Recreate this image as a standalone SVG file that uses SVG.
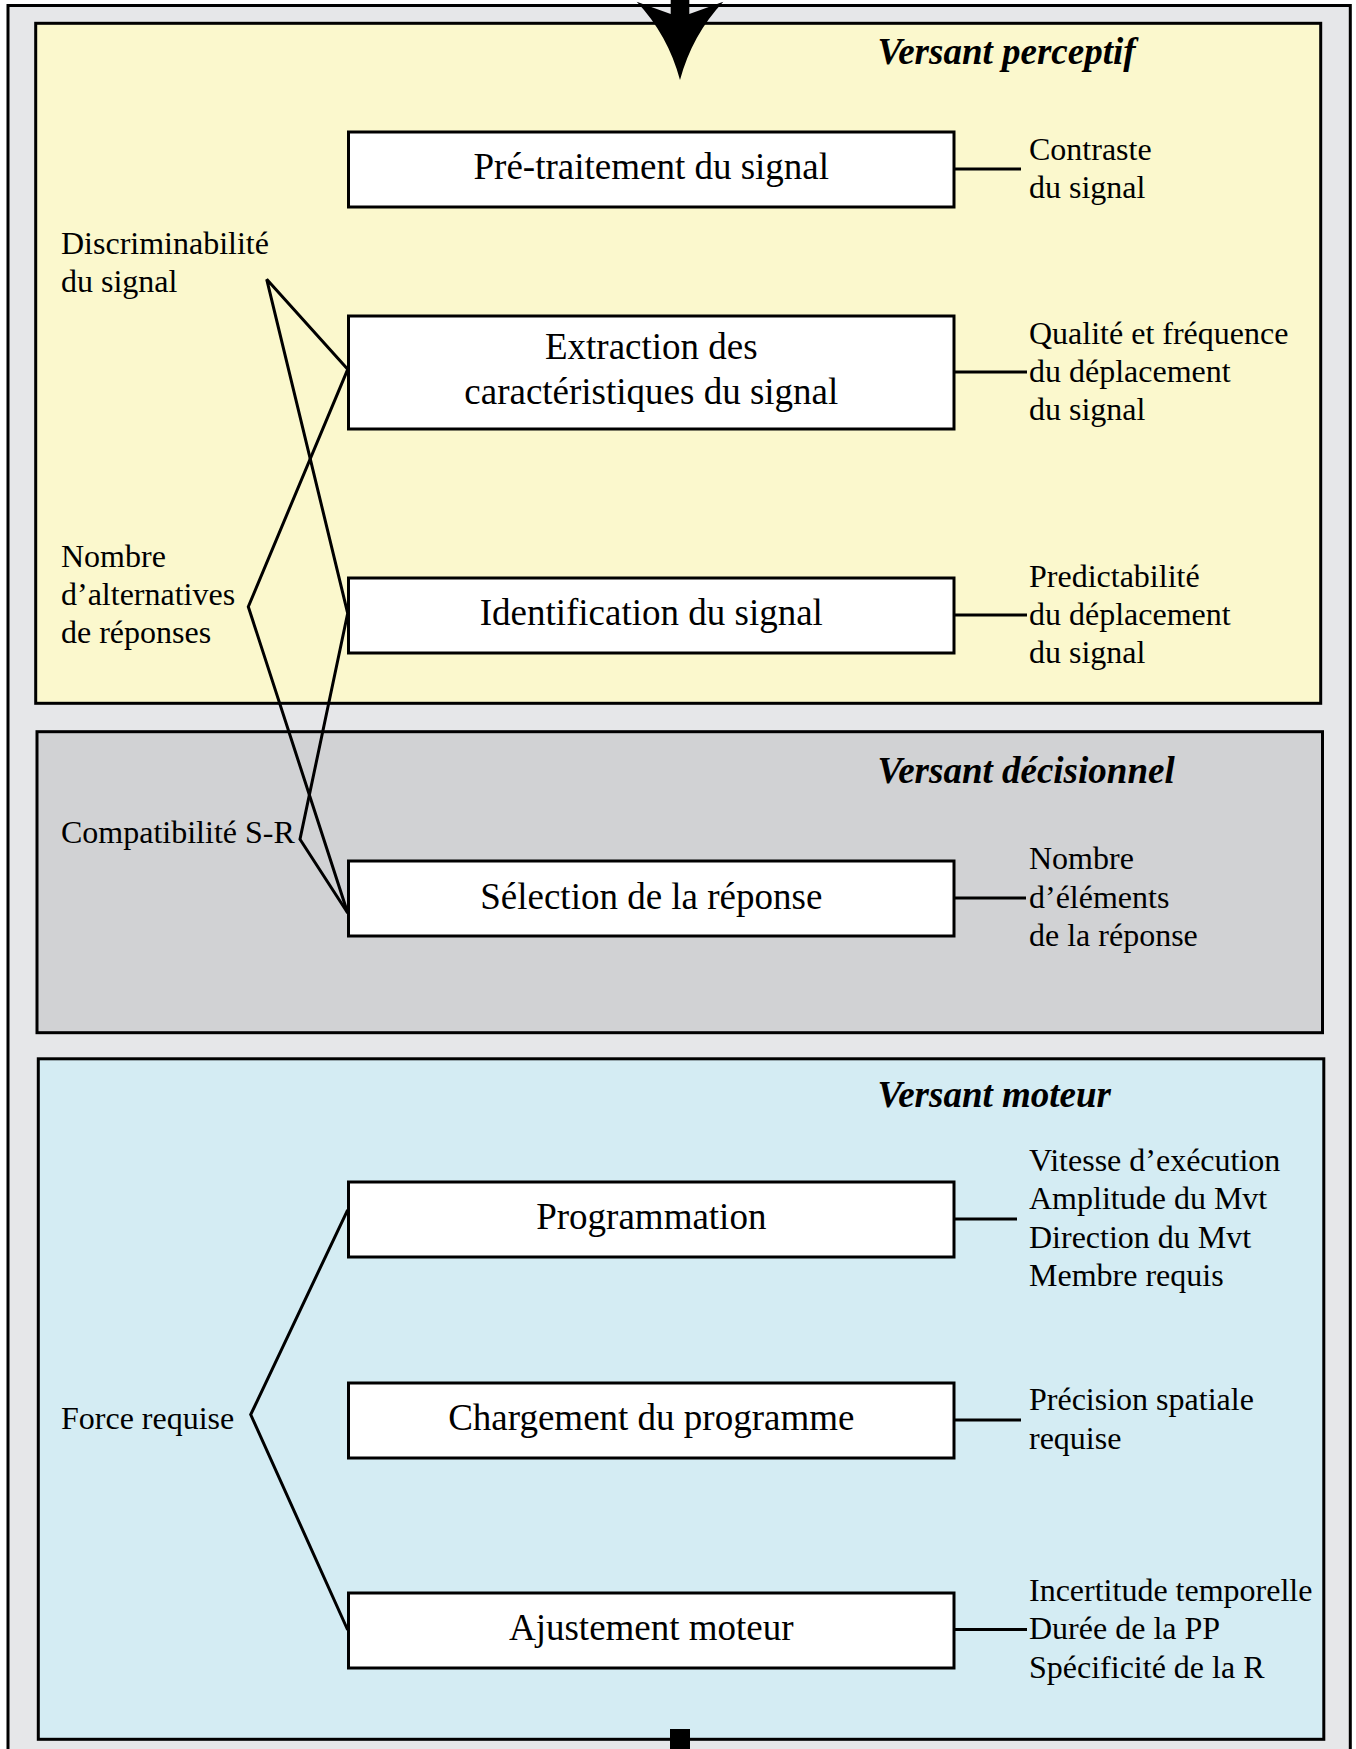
<svg xmlns="http://www.w3.org/2000/svg" width="1356" height="1749" viewBox="0 0 1356 1749">
<style>
.panel{stroke:#000;stroke-width:3}
.box{fill:#fff;stroke:#000;stroke-width:3}
.bt{font-family:"Liberation Serif","Times New Roman",serif;font-size:37px;fill:#000;text-anchor:middle}
.lb{font-family:"Liberation Serif","Times New Roman",serif;font-size:32px;fill:#000}
.ti{font-family:"Liberation Serif","Times New Roman",serif;font-size:37px;font-weight:bold;font-style:italic;fill:#000}
.cn{fill:none;stroke:#000;stroke-width:3;stroke-linejoin:miter}
</style>
<g id="frame">
<rect x="8" y="5.5" width="1342.3" height="1750" fill="#e6e7e9" class="panel"/>
</g>
<g id="panel-perceptif">
<rect x="35.7" y="23.3" width="1285" height="680" fill="#fbf8cd" class="panel"/>
<text class="ti" x="877.6" y="64">Versant perceptif</text>
</g>
<g id="panel-decisionnel">
<rect x="37" y="731.7" width="1285.5" height="301" fill="#d1d2d4" class="panel"/>
<text class="ti" x="877.6" y="782.5">Versant décisionnel</text>
</g>
<g id="panel-moteur">
<rect x="38.3" y="1058.8" width="1285.5" height="680.5" fill="#d4ecf3" class="panel"/>
<text class="ti" x="877.6" y="1106.5">Versant moteur</text>
</g>
<g id="arrow-in">
<path d="M636.7,1.7 Q668,35 680,80 Q692,35 723.3,1.7 L689.3,14 L689.3,-5 L670.7,-5 L670.7,14 Z" fill="#000"/>
</g>
<g id="arrow-out">
<rect x="670" y="1729" width="20" height="25" fill="#000"/>
</g>
<g id="connectors">
<polyline class="cn" points="347.7,369.3 266.7,279.3 347.7,613.3"/>
<polyline class="cn" points="347.7,369.3 248.3,606.7 347.7,913"/>
<polyline class="cn" points="347.7,613.3 300,839.3 347.7,913"/>
<polyline class="cn" points="347.7,1209.8 250.7,1414.6 347.7,1630"/>
<line class="cn" x1="954" y1="169" x2="1021" y2="169"/>
<line class="cn" x1="954" y1="372" x2="1027" y2="372"/>
<line class="cn" x1="954" y1="615" x2="1027" y2="615"/>
<line class="cn" x1="954" y1="898" x2="1026" y2="898"/>
<line class="cn" x1="954" y1="1219" x2="1017" y2="1219"/>
<line class="cn" x1="954" y1="1420" x2="1021" y2="1420"/>
<line class="cn" x1="954" y1="1629.5" x2="1027" y2="1629.5"/>
</g>
<g id="n-pretraitement">
<rect class="box" x="348.5" y="132" width="605.5" height="75"/>
<text class="bt" x="651.3" y="179">Pré-traitement du signal</text>
</g>
<g id="n-extraction">
<rect class="box" x="348.5" y="316" width="605.5" height="113"/>
<text class="bt" x="651.3" y="359">Extraction des</text>
<text class="bt" x="651.3" y="404">caractéristiques du signal</text>
</g>
<g id="n-identification">
<rect class="box" x="348.5" y="578" width="605.5" height="75"/>
<text class="bt" x="651.3" y="625">Identification du signal</text>
</g>
<g id="n-selection">
<rect class="box" x="348.5" y="861" width="605.5" height="75"/>
<text class="bt" x="651.3" y="909">Sélection de la réponse</text>
</g>
<g id="n-programmation">
<rect class="box" x="348.5" y="1182" width="605.5" height="75"/>
<text class="bt" x="651.3" y="1229">Programmation</text>
</g>
<g id="n-chargement">
<rect class="box" x="348.5" y="1383" width="605.5" height="75"/>
<text class="bt" x="651.3" y="1430">Chargement du programme</text>
</g>
<g id="n-ajustement">
<rect class="box" x="348.5" y="1593" width="605.5" height="75"/>
<text class="bt" x="651.3" y="1640">Ajustement moteur</text>
</g>
<g id="l-discriminabilite">
<text class="lb" x="61" y="254">Discriminabilité</text>
<text class="lb" x="61" y="292">du signal</text>
</g>
<g id="l-nombre-alternatives">
<text class="lb" x="61" y="567">Nombre</text>
<text class="lb" x="61" y="605">d’alternatives</text>
<text class="lb" x="61" y="643">de réponses</text>
</g>
<g id="l-compatibilite">
<text class="lb" x="61" y="843">Compatibilité S-R</text>
</g>
<g id="l-force">
<text class="lb" x="61" y="1429">Force requise</text>
</g>
<g id="r-contraste">
<text class="lb" x="1029" y="160">Contraste</text>
<text class="lb" x="1029" y="198">du signal</text>
</g>
<g id="r-qualite">
<text class="lb" x="1029" y="344">Qualité et fréquence</text>
<text class="lb" x="1029" y="382">du déplacement</text>
<text class="lb" x="1029" y="420">du signal</text>
</g>
<g id="r-predictabilite">
<text class="lb" x="1029" y="587">Predictabilité</text>
<text class="lb" x="1029" y="625">du déplacement</text>
<text class="lb" x="1029" y="663">du signal</text>
</g>
<g id="r-nombre-elements">
<text class="lb" x="1029" y="869">Nombre</text>
<text class="lb" x="1029" y="908">d’éléments</text>
<text class="lb" x="1029" y="946">de la réponse</text>
</g>
<g id="r-programmation">
<text class="lb" x="1029" y="1171">Vitesse d’exécution</text>
<text class="lb" x="1029" y="1209">Amplitude du Mvt</text>
<text class="lb" x="1029" y="1248">Direction du Mvt</text>
<text class="lb" x="1029" y="1286">Membre requis</text>
</g>
<g id="r-precision">
<text class="lb" x="1029" y="1410">Précision spatiale</text>
<text class="lb" x="1029" y="1449">requise</text>
</g>
<g id="r-ajustement">
<text class="lb" x="1029" y="1601">Incertitude temporelle</text>
<text class="lb" x="1029" y="1639">Durée de la PP</text>
<text class="lb" x="1029" y="1678">Spécificité de la R</text>
</g>
</svg>
